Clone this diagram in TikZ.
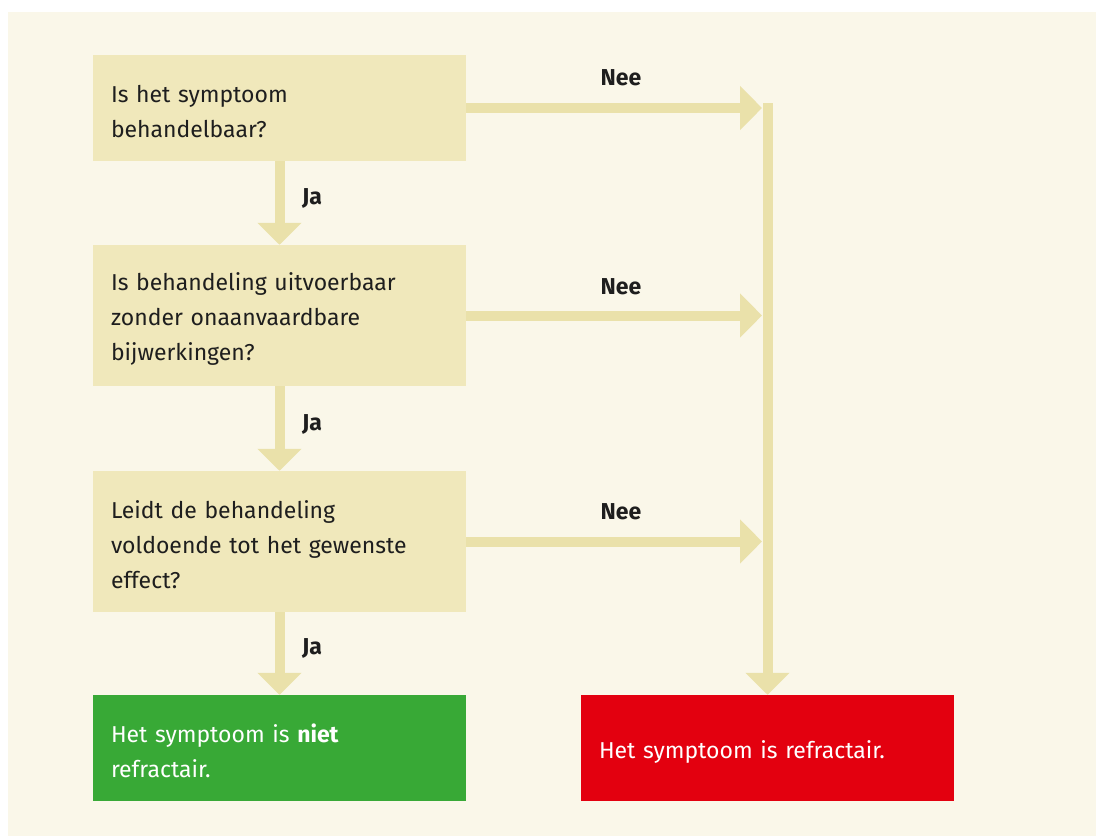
\documentclass[tikz,border=0pt]{standalone}
\usepackage{fontspec}
\setmainfont{Fira Sans}
\usetikzlibrary{arrows.meta}
\definecolor{pagebg}{HTML}{FAF7E9}
\definecolor{boxfill}{HTML}{F0E8BB}
\definecolor{arrowcol}{HTML}{EAE1AA}
\definecolor{okgreen}{HTML}{38A936}
\definecolor{badred}{HTML}{E3000F}
\definecolor{txt}{HTML}{1E1E1E}
\tikzset{
  qbox/.style={fill=boxfill, text=txt, minimum width=373pt, text width=337pt,
    inner xsep=18pt, inner ysep=0pt, align=left, anchor=center,
    font={\fontsize{23}{35}\selectfont},
    execute at begin node={\rule{0pt}{25pt}}},
  endbox/.style={qbox, text=white},
  arr/.style={draw=arrowcol, line width=10pt,
    -{Triangle[width=43pt,length=22pt]}},
  lbl/.style={text=txt, font={\fontsize{23}{28}\selectfont\bfseries}}
}
\begin{document}
\begin{tikzpicture}[x=1pt,y=-1pt]
\useasboundingbox (0,0) rectangle (1096,836);
\fill[pagebg] (8,12) rectangle (1096,836);
\node[qbox, minimum height=106pt] (q1) at (279.5,108) {Is het symptoom\\behandelbaar?};
\node[qbox, minimum height=141pt] (q2) at (279.5,315.5) {Is behandeling uitvoerbaar\\zonder onaanvaardbare\\bijwerkingen?};
\node[qbox, minimum height=141pt] (q3) at (279.5,541.5) {Leidt de behandeling\\voldoende tot het gewenste\\effect?};
\node[endbox, fill=okgreen, minimum height=106pt] (ok) at (279.5,748) {Het symptoom is \textbf{niet}\\refractair.};
\node[endbox, fill=badred, minimum height=106pt] (bad) at (767.5,748) {Het symptoom is refractair.};
\coordinate (vl) at (762,0);
\coordinate (top) at (767.5,103);
\draw[arr] (q1.south) -- (q2.north);
\draw[arr] (q2.south) -- (q3.north);
\draw[arr] (q3.south) -- (ok.north);
\draw[arr] (q1.east) -- (q1.east -| vl);
\draw[arr] (q2.east) -- (q2.east -| vl);
\draw[arr] (q3.east) -- (q3.east -| vl);
\draw[arr] (top) -- (bad.north);
\node[lbl] (n1) at (621,78) {Nee};
\node[lbl] (n2) at (621,287) {Nee};
\node[lbl] (n3) at (621,512) {Nee};
\node[lbl] (j1) at (312,198) {Ja};
\node[lbl] (j2) at (312,424) {Ja};
\node[lbl] (j3) at (312,648) {Ja};
\end{tikzpicture}
\end{document}
